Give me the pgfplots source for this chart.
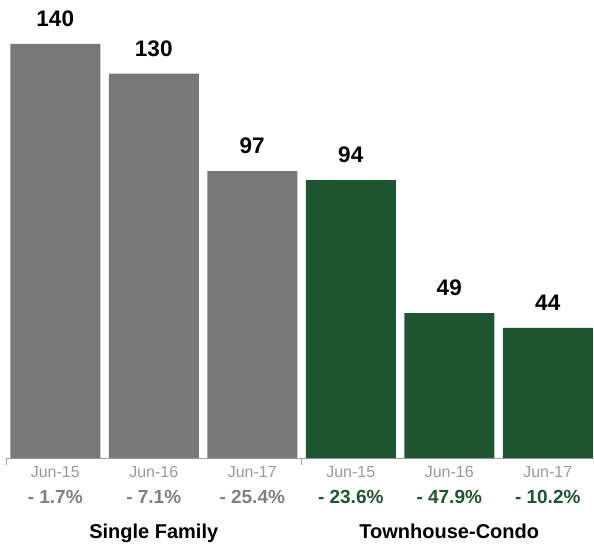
\documentclass[border=0pt]{standalone}
\usepackage{pgfplots}
\pgfplotsset{compat=1.18}
\usepackage{fontspec}
\setmainfont{Liberation Sans}
\definecolor{bargray}{HTML}{787878}
\definecolor{bargreen}{HTML}{1E5631}
\definecolor{ticklab}{HTML}{999999}
\definecolor{axisgray}{HTML}{A0A0A0}
\definecolor{pctgray}{HTML}{808080}
\begin{document}
\begin{tikzpicture}
\begin{axis}[
  name=ax,
  scale only axis,
  width=591bp, height=414bp,
  xmin=-0.5, xmax=5.5,
  ymin=0, ymax=140,
  ybar, bar width=90bp, bar shift=0pt,
  axis x line=bottom, axis y line=none,
  x axis line style={draw=axisgray, line width=0.8bp, -},
  xtick={0,1,2,3,4,5},
  major tick length=0pt,
  /pgf/number format/assume math mode=true,
  xticklabels={
    {\color{ticklab}Jun-15\\{\fontsize{19bp}{26bp}\selectfont\bfseries\color{pctgray}- 1.7\%}},
    {\color{ticklab}Jun-16\\{\fontsize{19bp}{26bp}\selectfont\bfseries\color{pctgray}- 7.1\%}},
    {\color{ticklab}Jun-17\\{\fontsize{19bp}{26bp}\selectfont\bfseries\color{pctgray}- 25.4\%}},
    {\color{ticklab}Jun-15\\{\fontsize{19bp}{26bp}\selectfont\bfseries\color{bargreen}- 23.6\%}},
    {\color{ticklab}Jun-16\\{\fontsize{19bp}{26bp}\selectfont\bfseries\color{bargreen}- 47.9\%}},
    {\color{ticklab}Jun-17\\{\fontsize{19bp}{26bp}\selectfont\bfseries\color{bargreen}- 10.2\%}}},
  xticklabel style={align=center, anchor=north, inner sep=0pt, yshift=-8bp,
    font=\fontsize{16bp}{26bp}\selectfont},
  extra x ticks={-0.5,2.5,5.5},
  extra x tick labels={},
  extra x tick style={major tick length=7bp, tick style={draw=axisgray, line width=0.8bp}, tick align=outside},
  nodes near coords,
  nodes near coords style={font=\fontsize{22.5bp}{26bp}\selectfont\bfseries, text=black, inner sep=0pt, anchor=south, yshift=17bp},
  clip=false,
]
\addplot[fill=bargray, draw=none] coordinates {(0,140) (1,130) (2,97)};
\addplot[fill=bargreen, draw=none] coordinates {(3,94) (4,49) (5,44)};
\node[anchor=base, font=\fontsize{20bp}{24bp}\selectfont\bfseries] at (axis cs:1,0) [yshift=-80bp] {Single Family};
\node[anchor=base, font=\fontsize{20bp}{24bp}\selectfont\bfseries] at (axis cs:4,0) [yshift=-80bp] {Townhouse-Condo};
\end{axis}
\pgfresetboundingbox
\path[use as bounding box] ([xshift=-6bp,yshift=-89bp]ax.south west) rectangle ++(594bp,547bp);
\end{tikzpicture}
\end{document}
